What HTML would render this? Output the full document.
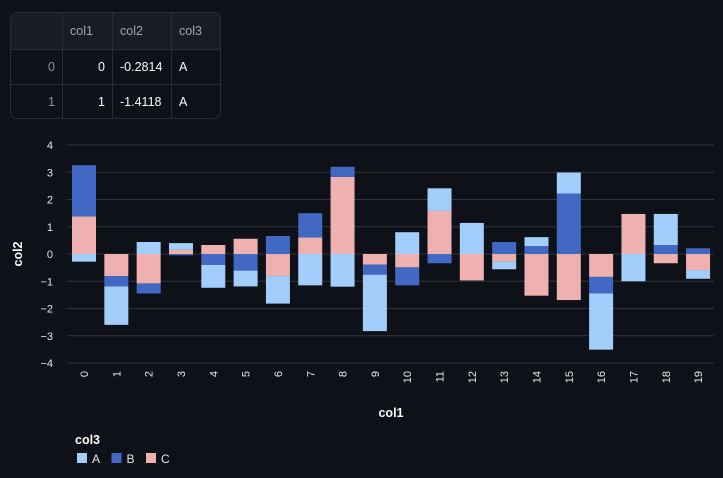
<!DOCTYPE html>
<html><head><meta charset="utf-8">
<style>
body{margin:0;background:#0e1117;width:723px;height:478px;overflow:hidden;font-family:"Liberation Sans",sans-serif;color:#fafafa}
#tbl{position:absolute;left:10px;top:12px;width:209px;height:105px;border:1px solid #2a2c34;border-radius:7px;overflow:hidden;background:#0e1117}
table{border-collapse:collapse;font-size:12.5px;width:100%}
td,th{border-right:1px solid #2a2c34;border-bottom:1px solid #2a2c34;padding:0 7px;height:34px;font-weight:normal}
th{height:36px;background:#1a1c23;color:#a3a6ad;text-align:left}
td.i{color:#8e9197;text-align:right}
td.r{text-align:right}
tr:last-child td{border-bottom:none}
td:last-child,th:last-child{border-right:none}
</style></head><body>
<div id="tbl">
<table>
<tr><th style="width:37px"></th><th style="width:35px">col1</th><th style="width:44px">col2</th><th>col3</th></tr>
<tr><td class="i">0</td><td class="r">0</td><td>-0.2814</td><td>A</td></tr>
<tr><td class="i">1</td><td class="r">1</td><td>-1.4118</td><td>A</td></tr>
</table></div>
<svg id="chart" width="723" height="478" style="position:absolute;left:0;top:0"></svg>
<script>
const categories=[0,1,2,3,4,5,6,7,8,9,10,11,12,13,14,15,16,17,18,19];
const seriesA=[-0.28,-1.41,0.44,0.25,-0.84,-0.58,-1.01,-1.15,-1.2,-2.07,0.8,0.83,1.14,-0.28,0.33,0.77,-2.06,-1.0,1.14,-0.32];
const seriesB=[1.88,-0.38,-0.37,-0.05,-0.40,-0.61,0.66,0.89,0.37,-0.37,-0.66,-0.34,0,0.44,0.29,2.22,-0.61,0,0.33,0.21];
const seriesC=[1.38,-0.81,-1.08,0.15,0.33,0.56,-0.81,0.61,2.83,-0.39,-0.49,1.58,-0.97,-0.28,-1.53,-1.69,-0.84,1.47,-0.34,-0.59];
const yTicks=[4,3,2,1,0,-1,-2,-3,-4];
const legendLabels=["A","B","C"];
const colors=["#a3cdfb","#4169c4","#eeb1b0"];
const svg=document.getElementById('chart');const NS='http://www.w3.org/2000/svg';
function mk(t,a,txt){const e=document.createElementNS(NS,t);for(const k in a)e.setAttribute(k,a[k]);if(txt!==undefined)e.textContent=txt;svg.appendChild(e);return e;}
const x0=67.85,step=32.32,bw=24;
const y=v=>254-v*27.25;
const xb=i=>x0+i*step+(step-bw)/2;
yTicks.forEach(t=>{
 const g=mk('line',{x1:67,x2:714,y1:y(t),y2:y(t),stroke:'#31333f','stroke-width':1});
 
 
 const l=mk('text',{x:53,y:y(t)+4,'text-anchor':'end','font-size':11,fill:'#e6e6e6'},String(t).replace('-','\u2212'));
 
 
});
const series=[seriesC,seriesB,seriesA];const sc=[colors[2],colors[1],colors[0]];
categories.forEach((c,i)=>{
 let pos=0,neg=0;
 series.forEach((s,k)=>{
  const v=s[i];if(!v)return;
  let a,b;if(v>0){a=pos;b=pos+v;pos=b;}else{a=neg;b=neg+v;neg=b;}
  const r=mk('rect',{x:xb(i),width:bw,y:Math.min(y(a),y(b)),height:Math.abs(y(a)-y(b)),fill:sc[k]});
  
  
 });
 const cx=xb(i)+bw/2;
 const t=mk('text',{x:0,y:0,'font-size':11,fill:'#e6e6e6','text-anchor':'end',transform:`translate(${cx+4},${371}) rotate(-90)`},String(c));
 
 
});
const xt=mk('text',{x:391,y:417,'font-size':12.5,'font-weight':'bold',fill:'#fafafa','text-anchor':'middle'},'col1');


const yt=mk('text',{x:0,y:0,'font-size':12.5,'font-weight':'bold',fill:'#fafafa','text-anchor':'middle',transform:'translate(22,254) rotate(-90)'},'col2');


const lt=mk('text',{x:75,y:444,'font-size':12.5,'font-weight':'bold',fill:'#fafafa'},'col3');


legendLabels.forEach((s,k)=>{
 const lx=77+k*34.5;
 const r=mk('rect',{x:lx,y:453,width:10,height:10,fill:colors[k]});
 
 
 const t=mk('text',{x:lx+15,y:463,'font-size':12,fill:'#e6e6e6'},s);
 
 
});
</script>
</body></html>
